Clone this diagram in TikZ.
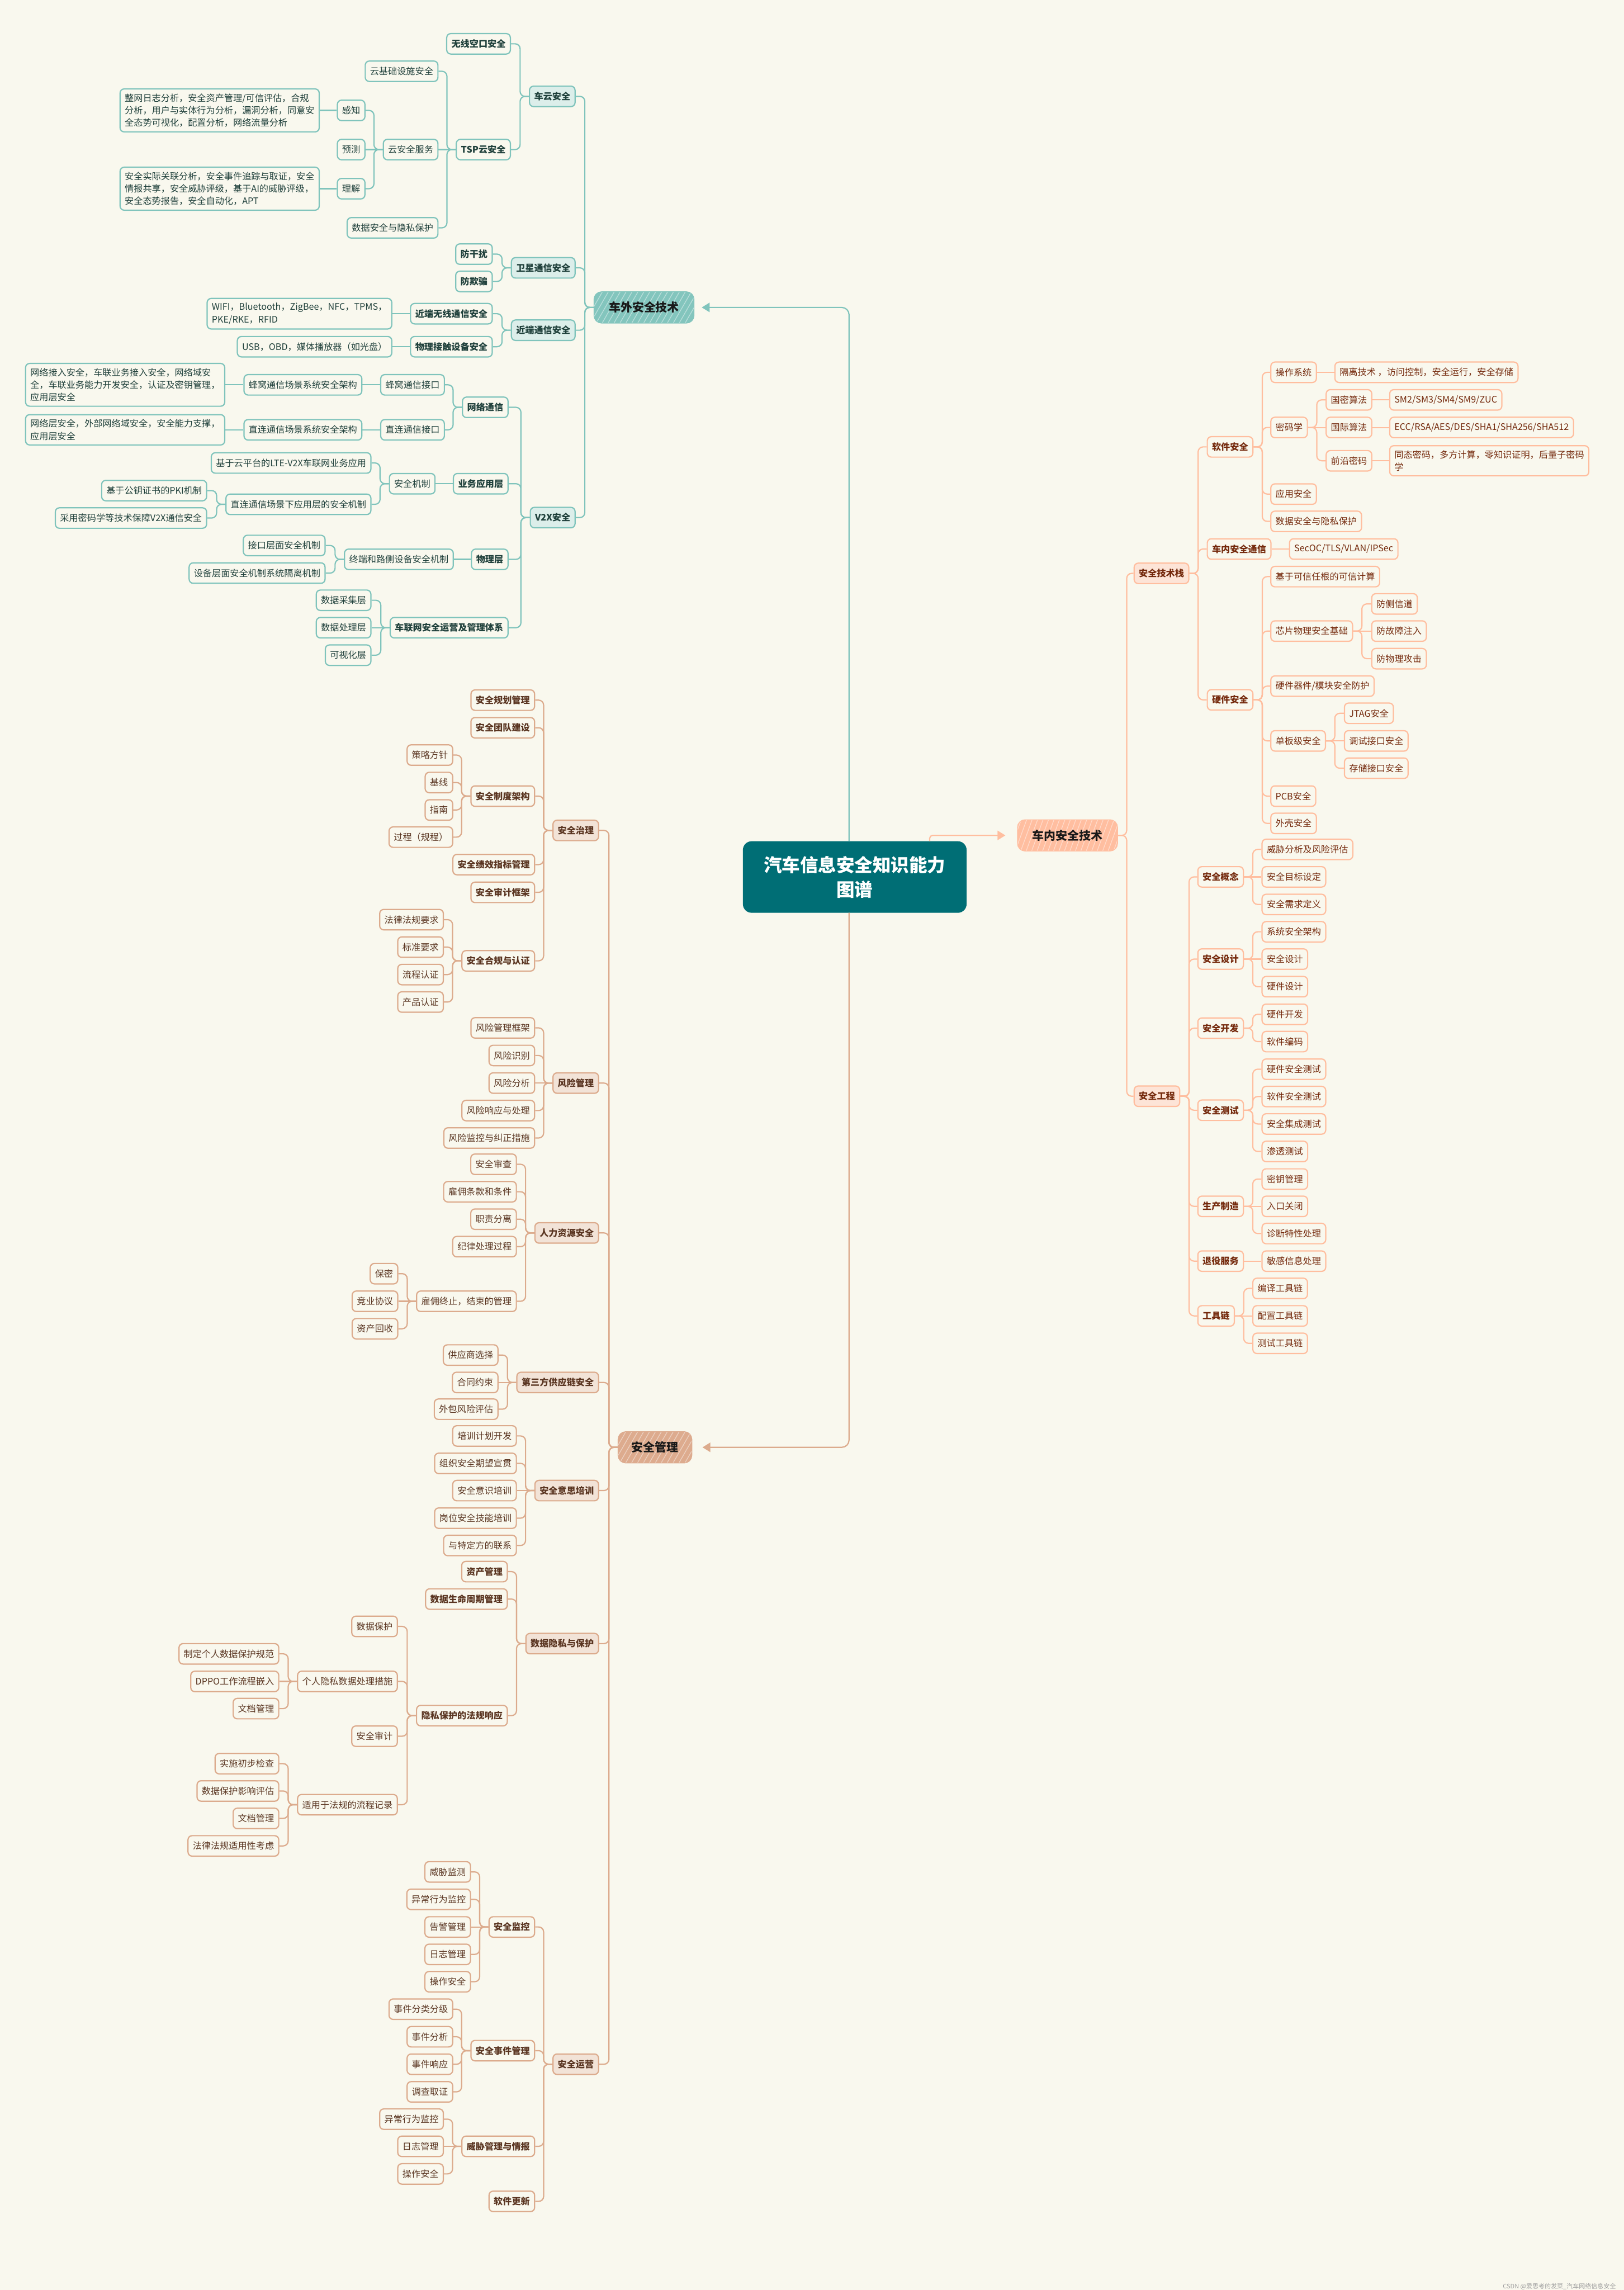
\documentclass[tikz,border=0pt]{standalone}
\usepackage{fontspec}
\setmainfont{Noto Sans CJK SC}
\usetikzlibrary{arrows.meta,patterns.meta}
\definecolor{bg}{HTML}{F9F8EE}
\definecolor{gline}{HTML}{80C4BC}
\definecolor{gfill}{HTML}{DCEEEA}
\definecolor{gtext}{HTML}{1F403B}
\definecolor{gmainc}{HTML}{83C5BD}
\definecolor{oline}{HTML}{FFBE9F}
\definecolor{ofill}{HTML}{FDE4D7}
\definecolor{otext}{HTML}{74290C}
\definecolor{omainc}{HTML}{FFBEA0}
\definecolor{bline}{HTML}{DCAB8D}
\definecolor{bfill}{HTML}{F2E3D7}
\definecolor{btext}{HTML}{5A3521}
\definecolor{bmainc}{HTML}{DDAB8E}
\definecolor{rootc}{HTML}{006E75}
\newcommand\cL[3]{\draw[#1] (#2.east) -| ([xshift=-3mm]#3.west) -- (#3.west);}
\newcommand\cR[3]{\draw[#1] (#3.east) -- ([xshift=3mm]#3.east) |- (#2.west);}
\newcommand\sL[3]{\draw[#1] (#2.east) -- (#3.west);}
\newcommand\sR[3]{\draw[#1] (#3.east) -- (#2.west);}
\tikzset{
  nbox/.style={rounded corners=0.14cm, line width=1.2pt, minimum height=0.7cm, inner xsep=4.6pt, inner ysep=1pt, font=\fontsize{8.8}{12.2}\selectfont},
  multi/.style={align=left, inner ysep=4.5pt},
  boldtext/.style={font=\fontsize{8.8}{12.2}\selectfont\bfseries},
  gn/.style={nbox, draw=gline, fill=bg, text=gtext},
  gnb/.style={gn, boldtext},
  gn2/.style={gnb, fill=gfill},
  gm/.style={gn, multi},
  on/.style={nbox, draw=oline, fill=bg, text=otext},
  onb/.style={on, boldtext},
  on2/.style={onb, fill=ofill},
  om/.style={on, multi},
  bn/.style={nbox, draw=bline, fill=bg, text=btext},
  bnb/.style={bn, boldtext},
  bn2/.style={bnb, fill=bfill},
  mainn/.style={rounded corners=0.25cm, line width=1.4pt, minimum height=1.05cm, inner xsep=0.5cm, font=\fontsize{11.4}{14}\selectfont\bfseries, text=black!90},
  gmain/.style={mainn, fill=gmainc, draw=gmainc, postaction={pattern={Lines[angle=60,distance=5pt,line width=0.7pt]}, pattern color=white!45!gmainc}},
  omain/.style={mainn, fill=omainc, draw=omainc, postaction={pattern={Lines[angle=70,distance=5pt,line width=0.7pt]}, pattern color=white!45!omainc}},
  bmain/.style={mainn, fill=bmainc, draw=bmainc, inner xsep=0.45cm, postaction={pattern={Lines[angle=60,distance=5pt,line width=0.7pt]}, pattern color=white!45!bmainc}},
  gl/.style={draw=gline, line width=1.2pt, rounded corners=0.17cm},
  ol/.style={draw=oline, line width=1.2pt, rounded corners=0.17cm},
  bl/.style={draw=bline, line width=1.2pt, rounded corners=0.17cm},
}
\begin{document}
\begin{tikzpicture}[x=0.05cm, y=-0.05cm]
\fill[bg] (0,0) rectangle (1112,1568);
\useasboundingbox (0,0) rectangle (1112,1568);

% root
\node[fill=rootc, rounded corners=0.3cm, minimum width=7.66cm, minimum height=2.45cm, align=center, text=white, font=\fontsize{17.7}{23.9}\selectfont\bfseries] (root) at (585.3,600.5) {汽车信息安全知识能力\\图谱};

% ===== green =====
\node[gmain] (cw) at (441,210.5) {车外安全技术};
\node[gn2, anchor=east] (cy) at (394.2,66) {车云安全};
\node[gn2, anchor=east] (wx) at (394.2,183.4) {卫星通信安全};
\node[gn2, anchor=east] (jd) at (394.2,226.1) {近端通信安全};
\node[gn2, anchor=east] (v2x) at (394.2,354.4) {V2X安全};
\node[gnb, anchor=east] (wxk) at (349.9,30) {无线空口安全};
\node[gnb, anchor=east] (tsp) at (349.9,102.4) {TSP云安全};
\node[gn, anchor=east] (yjc) at (300.3,48.8) {云基础设施安全};
\node[gn, anchor=east] (yfw) at (300.3,102.4) {云安全服务};
\node[gn, anchor=east] (ysj) at (300.3,156) {数据安全与隐私保护};
\node[gn, anchor=east] (gz) at (250.3,75.6) {感知};
\node[gn, anchor=east] (yc) at (250.3,102.4) {预测};
\node[gn, anchor=east] (lj) at (250.3,129.2) {理解};
\node[gm, anchor=east] (gzt) at (219,75.6) {整网日志分析，安全资产管理/可信评估，合规\\分析，用户与实体行为分析，漏洞分析，同意安\\全态势可视化，配置分析，网络流量分析};
\node[gm, anchor=east] (ljt) at (219,129.2) {安全实际关联分析，安全事件追踪与取证，安全\\情报共享，安全威胁评级，基于AI的威胁评级，\\安全态势报告，安全自动化，APT};
\node[gnb, anchor=east] (fgr) at (337.5,174) {防干扰};
\node[gnb, anchor=east] (fqp) at (337.5,192.7) {防欺骗};
\node[gnb, anchor=east] (jdwx) at (337.5,214.8) {近端无线通信安全};
\node[gnb, anchor=east] (wljc) at (337.5,237.4) {物理接触设备安全};
\node[gm, anchor=east] (wifi) at (268.7,214.8) {WIFI，Bluetooth，ZigBee，NFC，TPMS，\\PKE/RKE，RFID};
\node[gn, anchor=east] (usb) at (268.7,237.4) {USB，OBD，媒体播放器（如光盘）};
\node[gnb, anchor=east] (wltx) at (348.3,278.9) {网络通信};
\node[gnb, anchor=east] (ywyy) at (348.3,331.2) {业务应用层};
\node[gnb, anchor=east] (wlc) at (348.3,383) {物理层};
\node[gnb, anchor=east] (clw) at (348.3,429.8) {车联网安全运营及管理体系};
\node[gn, anchor=east] (fwjk) at (304.7,263.5) {蜂窝通信接口};
\node[gn, anchor=east] (zljk) at (304.7,294.3) {直连通信接口};
\node[gn, anchor=east] (fwcj) at (248.2,263.5) {蜂窝通信场景系统安全架构};
\node[gn, anchor=east] (zlcj) at (248.2,294.3) {直连通信场景系统安全架构};
\node[gm, anchor=east] (fwt) at (154.3,263.5) {网络接入安全，车联业务接入安全，网络域安\\全，车联业务能力开发安全，认证及密钥管理，\\应用层安全};
\node[gm, anchor=east] (zlt) at (154.3,294.3) {网络层安全，外部网络域安全，安全能力支撑，\\应用层安全};
\node[gn, anchor=east] (aqjz) at (298.3,331.2) {安全机制};
\node[gn, anchor=east] (lte) at (254.4,317) {基于云平台的LTE-V2X车联网业务应用};
\node[gn, anchor=east] (zlyy) at (254.4,345.3) {直连通信场景下应用层的安全机制};
\node[gn, anchor=east] (pki) at (141.9,335.9) {基于公钥证书的PKI机制};
\node[gn, anchor=east] (mmx) at (141.9,354.7) {采用密码学等技术保障V2X通信安全};
\node[gn, anchor=east] (zdlc) at (310.8,383) {终端和路侧设备安全机制};
\node[gn, anchor=east] (jkcm) at (223,373.5) {接口层面安全机制};
\node[gn, anchor=east] (sbcm) at (223,392.4) {设备层面安全机制系统隔离机制};
\node[gn, anchor=east] (sjcj) at (254.4,411) {数据采集层};
\node[gn, anchor=east] (sjcl) at (254.4,429.8) {数据处理层};
\node[gn, anchor=east] (ksh) at (254.4,448.6) {可视化层};

\foreach \c in {cy,wx,jd,v2x} {\cL{gl}{\c}{cw}}
\foreach \c in {wxk,tsp} {\cL{gl}{\c}{cy}}
\foreach \c in {yjc,ysj} {\cL{gl}{\c}{tsp}}
\sL{gl}{yfw}{tsp}
\foreach \c in {gz,lj} {\cL{gl}{\c}{yfw}}
\sL{gl}{yc}{yfw}
\sL{gl}{gzt}{gz}
\sL{gl}{ljt}{lj}
\foreach \c in {fgr,fqp} {\cL{gl}{\c}{wx}}
\foreach \c in {jdwx,wljc} {\cL{gl}{\c}{jd}}
\sL{gl}{wifi}{jdwx}
\sL{gl}{usb}{wljc}
\foreach \c in {wltx,ywyy,wlc,clw} {\cL{gl}{\c}{v2x}}
\foreach \c in {fwjk,zljk} {\cL{gl}{\c}{wltx}}
\sL{gl}{fwcj}{fwjk}
\sL{gl}{zlcj}{zljk}
\sL{gl}{fwt}{fwcj}
\sL{gl}{zlt}{zlcj}
\sL{gl}{aqjz}{ywyy}
\foreach \c in {lte,zlyy} {\cL{gl}{\c}{aqjz}}
\foreach \c in {pki,mmx} {\cL{gl}{\c}{zlyy}}
\sL{gl}{zdlc}{wlc}
\foreach \c in {jkcm,sbcm} {\cL{gl}{\c}{zdlc}}
\foreach \c in {sjcj,ksh} {\cL{gl}{\c}{clw}}
\sL{gl}{sjcl}{clw}

% ===== orange =====
\node[omain] (ci) at (731,572) {车内安全技术};
\node[on2, anchor=west] (jsz) at (776.2,392.6) {安全技术栈};
\node[on2, anchor=west] (aqgc) at (776.2,750.6) {安全工程};
\node[onb, anchor=west] (rj) at (826.3,306) {软件安全};
\node[onb, anchor=west] (cntx) at (826.3,375.9) {车内安全通信};
\node[onb, anchor=west] (yj) at (826.3,479.2) {硬件安全};
\node[on, anchor=west] (czxt) at (869.8,254.9) {操作系统};
\node[on, anchor=west] (glj) at (913.7,254.9) {隔离技术 ，访问控制，安全运行，安全存储};
\node[on, anchor=west] (mmxue) at (869.8,292.7) {密码学};
\node[on, anchor=west] (gm) at (907.7,273.8) {国密算法};
\node[on, anchor=west] (gms) at (951.2,273.8) {SM2/SM3/SM4/SM9/ZUC};
\node[on, anchor=west] (gj) at (907.7,292.7) {国际算法};
\node[on, anchor=west] (gjs) at (951.2,292.7) {ECC/RSA/AES/DES/SHA1/SHA256/SHA512};
\node[on, anchor=west] (qy) at (907.7,315.5) {前沿密码};
\node[om, anchor=west] (qys) at (951.2,315.5) {同态密码，多方计算，零知识证明，后量子密码\\学};
\node[on, anchor=west] (yyaq) at (869.8,338.3) {应用安全};
\node[on, anchor=west] (sjaq) at (869.8,357) {数据安全与隐私保护};
\node[on, anchor=west] (secoc) at (882.6,375.9) {SecOC/TLS/VLAN/IPSec};
\node[on, anchor=west] (kxjs) at (869.8,394.8) {基于可信任根的可信计算};
\node[on, anchor=west] (xp) at (869.8,432.1) {芯片物理安全基础};
\node[on, anchor=west] (fcx) at (938.9,413.5) {防侧信道};
\node[on, anchor=west] (fgz) at (938.9,432.1) {防故障注入};
\node[on, anchor=west] (fwl) at (938.9,451) {防物理攻击};
\node[on, anchor=west] (yjqj) at (869.8,469.8) {硬件器件/模块安全防护};
\node[on, anchor=west] (dbj) at (869.8,507.3) {单板级安全};
\node[on, anchor=west] (jtag) at (920.2,488.4) {JTAG安全};
\node[on, anchor=west] (tsjk) at (920.2,507.3) {调试接口安全};
\node[on, anchor=west] (ccjk) at (920.2,526) {存储接口安全};
\node[on, anchor=west] (pcb) at (869.8,545.1) {PCB安全};
\node[on, anchor=west] (wk) at (869.8,563.8) {外壳安全};
\node[onb, anchor=west] (aqgn) at (819.8,600.4) {安全概念};
\node[onb, anchor=west] (aqsj) at (819.8,656.7) {安全设计};
\node[onb, anchor=west] (aqkf) at (819.8,704) {安全开发};
\node[onb, anchor=west] (aqcs) at (819.8,760.2) {安全测试};
\node[onb, anchor=west] (sczz) at (819.8,826) {生产制造};
\node[onb, anchor=west] (tyfw) at (819.8,863.5) {退役服务};
\node[onb, anchor=west] (gjl) at (819.8,901) {工具链};
\node[on, anchor=west] (e1) at (863.8,581.6) {威胁分析及风险评估};
\node[on, anchor=west] (e2) at (863.8,600.4) {安全目标设定};
\node[on, anchor=west] (e3) at (863.8,619.3) {安全需求定义};
\node[on, anchor=west] (e4) at (863.8,638) {系统安全架构};
\node[on, anchor=west] (e5) at (863.8,656.7) {安全设计};
\node[on, anchor=west] (e6) at (863.8,675.6) {硬件设计};
\node[on, anchor=west] (e7) at (863.8,694.5) {硬件开发};
\node[on, anchor=west] (e8) at (863.8,713.2) {软件编码};
\node[on, anchor=west] (e9) at (863.8,732.1) {硬件安全测试};
\node[on, anchor=west] (e10) at (863.8,750.8) {软件安全测试};
\node[on, anchor=west] (e11) at (863.8,769.6) {安全集成测试};
\node[on, anchor=west] (e12) at (863.8,788.4) {渗透测试};
\node[on, anchor=west] (e13) at (863.8,807.3) {密钥管理};
\node[on, anchor=west] (e14) at (863.8,826) {入口关闭};
\node[on, anchor=west] (e15) at (863.8,844.6) {诊断特性处理};
\node[on, anchor=west] (e16) at (863.8,863.5) {敏感信息处理};
\node[on, anchor=west] (e17) at (857.5,882.2) {编译工具链};
\node[on, anchor=west] (e18) at (857.5,901) {配置工具链};
\node[on, anchor=west] (e19) at (857.5,919.8) {测试工具链};

\foreach \c in {jsz,aqgc} {\cR{ol}{\c}{ci}}
\foreach \c in {rj,cntx,yj} {\cR{ol}{\c}{jsz}}
\foreach \c in {czxt,mmxue,yyaq,sjaq} {\cR{ol}{\c}{rj}}
\sR{ol}{glj}{czxt}
\foreach \c in {gm,qy} {\cR{ol}{\c}{mmxue}}
\sR{ol}{gj}{mmxue}
\sR{ol}{gms}{gm}
\sR{ol}{gjs}{gj}
\sR{ol}{qys}{qy}
\sR{ol}{secoc}{cntx}
\foreach \c in {kxjs,xp,yjqj,dbj,pcb,wk} {\cR{ol}{\c}{yj}}
\foreach \c in {fcx,fwl} {\cR{ol}{\c}{xp}}
\sR{ol}{fgz}{xp}
\foreach \c in {jtag,ccjk} {\cR{ol}{\c}{dbj}}
\sR{ol}{tsjk}{dbj}
\foreach \c in {aqgn,aqsj,aqkf,aqcs,sczz,tyfw,gjl} {\cR{ol}{\c}{aqgc}}
\foreach \c in {e1,e3} {\cR{ol}{\c}{aqgn}}
\sR{ol}{e2}{aqgn}
\foreach \c in {e4,e6} {\cR{ol}{\c}{aqsj}}
\sR{ol}{e5}{aqsj}
\foreach \c in {e7,e8} {\cR{ol}{\c}{aqkf}}
\foreach \c in {e9,e10,e11,e12} {\cR{ol}{\c}{aqcs}}
\foreach \c in {e13,e15} {\cR{ol}{\c}{sczz}}
\sR{ol}{e14}{sczz}
\sR{ol}{e16}{tyfw}
\foreach \c in {e17,e19} {\cR{ol}{\c}{gjl}}
\sR{ol}{e18}{gjl}

% ===== brown =====
\node[bmain] (sm) at (448.5,991) {安全管理};
\node[bn2, anchor=east] (zl) at (410.3,568.6) {安全治理};
\node[bn2, anchor=east] (fx) at (410.3,741.6) {风险管理};
\node[bn2, anchor=east] (rl) at (410.3,844.2) {人力资源安全};
\node[bn2, anchor=east] (dsf) at (410.3,946.6) {第三方供应链安全};
\node[bn2, anchor=east] (px) at (410.3,1020.6) {安全意思培训};
\node[bn2, anchor=east] (ys) at (410.3,1125.4) {数据隐私与保护};
\node[bn2, anchor=east] (yy) at (410.3,1413.4) {安全运营};

\node[bnb, anchor=east] (z1) at (366.5,479.4) {安全规划管理};
\node[bnb, anchor=east] (z2) at (366.5,498.3) {安全团队建设};
\node[bnb, anchor=east] (z3) at (366.5,545.1) {安全制度架构};
\node[bnb, anchor=east] (z4) at (366.5,592) {安全绩效指标管理};
\node[bnb, anchor=east] (z5) at (366.5,611) {安全审计框架};
\node[bnb, anchor=east] (z6) at (366.5,657.9) {安全合规与认证};
\node[bn, anchor=east] (zz1) at (310.4,517) {策略方针};
\node[bn, anchor=east] (zz2) at (310.4,535.8) {基线};
\node[bn, anchor=east] (zz3) at (310.4,554.6) {指南};
\node[bn, anchor=east] (zz4) at (310.4,573.2) {过程（规程）};
\node[bn, anchor=east] (zh1) at (304,629.7) {法律法规要求};
\node[bn, anchor=east] (zh2) at (304,648.5) {标准要求};
\node[bn, anchor=east] (zh3) at (304,667.3) {流程认证};
\node[bn, anchor=east] (zh4) at (304,686.1) {产品认证};

\node[bn, anchor=east] (f1) at (366.5,703.8) {风险管理框架};
\node[bn, anchor=east] (f2) at (366.5,722.7) {风险识别};
\node[bn, anchor=east] (f3) at (366.5,741.6) {风险分析};
\node[bn, anchor=east] (f4) at (366.5,760.4) {风险响应与处理};
\node[bn, anchor=east] (f5) at (366.5,779.2) {风险监控与纠正措施};

\node[bn, anchor=east] (r1) at (354,797.2) {安全审查};
\node[bn, anchor=east] (r2) at (354,816) {雇佣条款和条件};
\node[bn, anchor=east] (r3) at (354,834.8) {职责分离};
\node[bn, anchor=east] (r4) at (354,853.6) {纪律处理过程};
\node[bn, anchor=east] (r5) at (354,891) {雇佣终止，结束的管理};
\node[bn, anchor=east] (rr1) at (272.8,872.1) {保密};
\node[bn, anchor=east] (rr2) at (272.8,891) {竞业协议};
\node[bn, anchor=east] (rr3) at (272.8,909.8) {资产回收};

\node[bn, anchor=east] (d1) at (341.4,927.8) {供应商选择};
\node[bn, anchor=east] (d2) at (341.4,946.6) {合同约束};
\node[bn, anchor=east] (d3) at (341.4,964.9) {外包风险评估};

\node[bn, anchor=east] (p1) at (354,983.2) {培训计划开发};
\node[bn, anchor=east] (p2) at (354,1002) {组织安全期望宣贯};
\node[bn, anchor=east] (p3) at (354,1020.6) {安全意识培训};
\node[bn, anchor=east] (p4) at (354,1039.5) {岗位安全技能培训};
\node[bn, anchor=east] (p5) at (354,1058.2) {与特定方的联系};

\node[bnb, anchor=east] (y1) at (347.8,1076.1) {资产管理};
\node[bnb, anchor=east] (y2) at (347.8,1094.9) {数据生命周期管理};
\node[bnb, anchor=east] (y3) at (347.8,1174.7) {隐私保护的法规响应};
\node[bn, anchor=east] (yb1) at (272.5,1113.6) {数据保护};
\node[bn, anchor=east] (yb2) at (272.5,1151.3) {个人隐私数据处理措施};
\node[bn, anchor=east] (yb3) at (272.5,1188.8) {安全审计};
\node[bn, anchor=east] (yb4) at (272.5,1235.7) {适用于法规的流程记录};
\node[bn, anchor=east] (yc1) at (191.3,1132.4) {制定个人数据保护规范};
\node[bn, anchor=east] (yc2) at (191.3,1151.3) {DPPO工作流程嵌入};
\node[bn, anchor=east] (yc3) at (191.3,1169.9) {文档管理};
\node[bn, anchor=east] (yd1) at (191.3,1207.6) {实施初步检查};
\node[bn, anchor=east] (yd2) at (191.3,1226.3) {数据保护影响评估};
\node[bn, anchor=east] (yd3) at (191.3,1245.1) {文档管理};
\node[bn, anchor=east] (yd4) at (191.3,1263.9) {法律法规适用性考虑};

\node[bnb, anchor=east] (o1) at (366.5,1319.4) {安全监控};
\node[bnb, anchor=east] (o2) at (366.5,1404.1) {安全事件管理};
\node[bnb, anchor=east] (o3) at (366.5,1469.6) {威胁管理与情报};
\node[bnb, anchor=east] (o4) at (366.5,1507.3) {软件更新};
\node[bn, anchor=east] (m1) at (322.6,1281.7) {威胁监测};
\node[bn, anchor=east] (m2) at (322.6,1300.5) {异常行为监控};
\node[bn, anchor=east] (m3) at (322.6,1319.4) {告警管理};
\node[bn, anchor=east] (m4) at (322.6,1338.2) {日志管理};
\node[bn, anchor=east] (m5) at (322.6,1356.9) {操作安全};
\node[bn, anchor=east] (k1) at (310.4,1375.7) {事件分类分级};
\node[bn, anchor=east] (k2) at (310.4,1394.6) {事件分析};
\node[bn, anchor=east] (k3) at (310.4,1413.4) {事件响应};
\node[bn, anchor=east] (k4) at (310.4,1432.3) {调查取证};
\node[bn, anchor=east] (t1) at (304,1451) {异常行为监控};
\node[bn, anchor=east] (t2) at (304,1469.6) {日志管理};
\node[bn, anchor=east] (t3) at (304,1488.5) {操作安全};

\foreach \c in {zl,fx,rl,dsf,px,ys,yy} {\cL{bl}{\c}{sm}}
\foreach \c in {z1,z2,z3,z4,z5,z6} {\cL{bl}{\c}{zl}}
\foreach \c in {zz1,zz2,zz3,zz4} {\cL{bl}{\c}{z3}}
\foreach \c in {zh1,zh2,zh3,zh4} {\cL{bl}{\c}{z6}}
\foreach \c in {f1,f2,f4,f5} {\cL{bl}{\c}{fx}}
\sL{bl}{f3}{fx}
\foreach \c in {r1,r2,r3,r4,r5} {\cL{bl}{\c}{rl}}
\foreach \c in {rr1,rr3} {\cL{bl}{\c}{r5}}
\sL{bl}{rr2}{r5}
\foreach \c in {d1,d3} {\cL{bl}{\c}{dsf}}
\sL{bl}{d2}{dsf}
\foreach \c in {p1,p2,p4,p5} {\cL{bl}{\c}{px}}
\sL{bl}{p3}{px}
\foreach \c in {y1,y2,y3} {\cL{bl}{\c}{ys}}
\foreach \c in {yb1,yb2,yb3,yb4} {\cL{bl}{\c}{y3}}
\foreach \c in {yc1,yc3} {\cL{bl}{\c}{yb2}}
\sL{bl}{yc2}{yb2}
\foreach \c in {yd1,yd2,yd3,yd4} {\cL{bl}{\c}{yb4}}
\foreach \c in {o1,o2,o3,o4} {\cL{bl}{\c}{yy}}
\foreach \c in {m1,m2,m4,m5} {\cL{bl}{\c}{o1}}
\sL{bl}{m3}{o1}
\foreach \c in {k1,k2,k3,k4} {\cL{bl}{\c}{o2}}
\foreach \c in {t1,t3} {\cL{bl}{\c}{o3}}
\sL{bl}{t2}{o3}

% ===== root connectors =====
\coordinate (r1c) at (581.4,576);
\coordinate (r2c) at (636.6,576);
\coordinate (r3c) at (581.4,625);
\draw[gl, rounded corners=0.25cm, -{Triangle[length=0.27cm,width=0.32cm]}] (r1c) |- ([xshift=0.25cm]cw.east);
\draw[ol, rounded corners=0.1cm, -{Triangle[length=0.27cm,width=0.32cm]}] (r2c) |- ([xshift=-0.4cm]ci.west);
\draw[bl, rounded corners=0.25cm, -{Triangle[length=0.27cm,width=0.32cm]}] (r3c) |- ([xshift=0.35cm]sm.east);

\node[anchor=east, text=gray!75, font=\fontsize{6}{7}\selectfont] (wm) at (1109,1565.5) {CSDN @爱思考的发菜\_汽车网络信息安全};
\end{tikzpicture}
\end{document}
